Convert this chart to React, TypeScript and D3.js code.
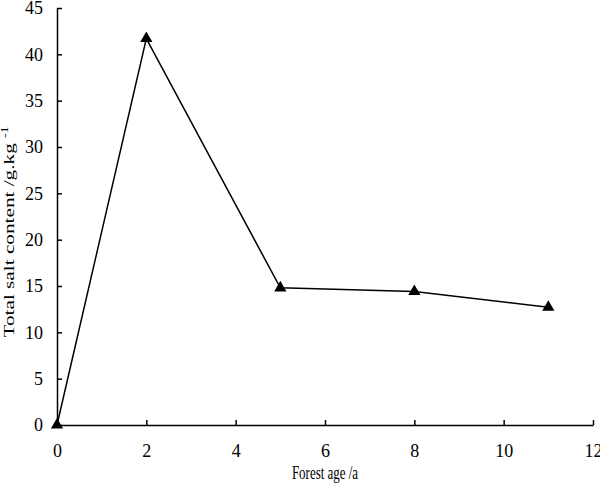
import React, { useEffect, useRef } from 'react';
import * as d3 from 'd3';

const ages = [0, 2, 5, 8, 11];
const salt = [0, 41.7, 14.8, 14.4, 12.7];
const xTicks = [0, 2, 4, 6, 8, 10, 12];
const yTicks = [0, 5, 10, 15, 20, 25, 30, 35, 40, 45];

const W = 600;
const H = 485;
const FONT = '"Liberation Serif", "Times New Roman", serif';

export default function App() {
    const ref = useRef<SVGSVGElement>(null);

    useEffect(() => {
        const svg = d3.select(ref.current);
        svg.selectAll('*').remove();

        const x = d3.scaleLinear().domain([0, 12]).range([57, 593]);
        const y = d3.scaleLinear().domain([0, 45]).range([425, 8]);

        // axes, ticks point inward
        const xAxis = svg.append('g').attr('transform', `translate(0,${y(0)})`)
            .call(d3.axisBottom(x).tickValues(xTicks).tickSizeInner(-5).tickSizeOuter(0).tickPadding(19));
        const yAxis = svg.append('g').attr('transform', `translate(${x(0)},0)`)
            .call(d3.axisLeft(y).tickValues(yTicks).tickSizeInner(-5).tickSizeOuter(0).tickPadding(14));

        [xAxis, yAxis].forEach(g => {
            g.select('.domain').attr('stroke', '#000').attr('stroke-width', 1.5);
            g.selectAll('.tick line').attr('stroke', '#000').attr('stroke-width', 1.5);
            g.selectAll('.tick text').attr('font-family', FONT).attr('font-size', 18).attr('fill', '#000');
        });

        const pts = ages.map((a, i) => [a, salt[i]] as [number, number]);

        const line = d3.line<[number, number]>()
            .x(d => x(d[0]))
            .y(d => y(d[1]));

        svg.append('path')
            .datum(pts)
            .attr('d', line)
            .attr('fill', 'none')
            .attr('stroke', '#000')
            .attr('stroke-width', 1.5);

        svg.selectAll('path.mark')
            .data(pts)
            .enter()
            .append('path')
            .attr('class', 'mark')
            .attr('d', d3.symbol().type(d3.symbolTriangle).size(65)())
            .attr('transform', d => `translate(${x(d[0])},${y(d[1])})`)
            .attr('fill', '#000');

        // labels (the original's labels are squeezed across)
        svg.append('text')
            .attr('transform', 'translate(325,479) scale(0.72,1)')
            .attr('text-anchor', 'middle')
            .attr('font-family', FONT)
            .attr('font-size', 18)
            .text('Forest age /a');

        const yl = svg.append('text')
            .attr('transform', 'translate(14,232) rotate(-90) scale(1.25,0.85)')
            .attr('text-anchor', 'middle')
            .attr('font-family', FONT)
            .attr('font-size', 17);
        yl.append('tspan').text('Total salt content /g.kg ');
        yl.append('tspan').attr('font-size', 11).attr('dy', -7).text('-1');
    }, []);

    return (
        <svg ref={ref} width={W} height={H}
            style={{ position: 'absolute', left: 0, top: 0, background: '#fff' }} />
    );
}
